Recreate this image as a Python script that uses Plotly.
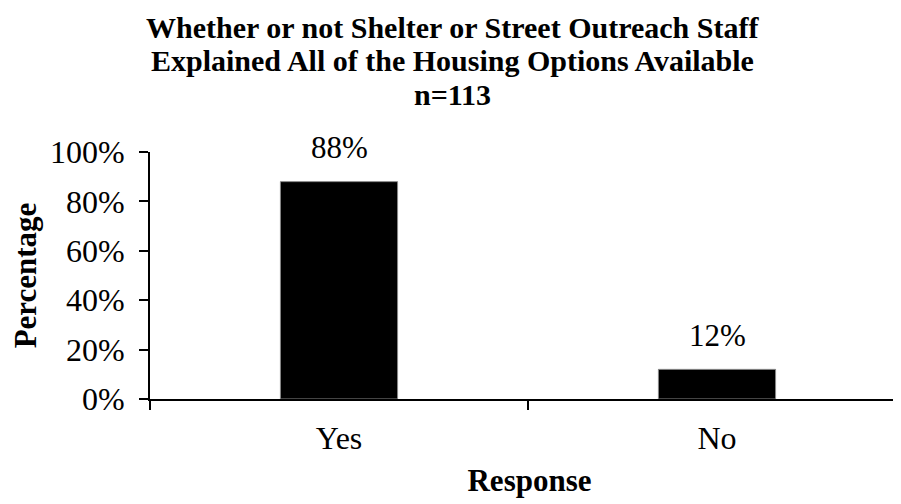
import plotly.graph_objects as go

categories = ["Yes", "No"]
values = [0.88, 0.12]
value_labels = ["88%", "12%"]
title_lines = [
    "Whether or not Shelter or Street Outreach Staff",
    "Explained All of the Housing Options Available",
    "n=113",
]
x_title = "Response"
y_title = "Percentage"
y_ticks = [0, 0.2, 0.4, 0.6, 0.8, 1.0]

FONT = "Liberation Serif, Times New Roman, serif"
OFF = 8  # page body margin
W, H = 901, 504
L, R, T, B = 150 - OFF, 0, 152 - OFF, 504 - (399 - OFF)
plot_h = H - T - B
plot_w = W - L - R
CAT_PX = 378.0

fig = go.Figure()
fig.add_trace(go.Bar(
    x=categories, y=values,
    marker=dict(color="black", line=dict(color="#888888", width=1)),
    width=0.31,
    hoverinfo="skip",
))

annotations = []
for c, v, t in zip(categories, values, value_labels):
    annotations.append(dict(x=c, y=v, xref="x", yref="y", text=t, showarrow=False,
                            yanchor="middle", yshift=34,
                            font=dict(family=FONT, size=31, color="black")))

title_centers_px = [27, 61, 95]
for line, ypx in zip(title_lines, title_centers_px):
    annotations.append(dict(x=(452 - OFF - L) / plot_w, y=(H - B - (ypx - OFF)) / plot_h,
                            xref="paper", yref="paper", text="<b>%s</b>" % line,
                            showarrow=False, xanchor="center", yanchor="middle",
                            font=dict(family=FONT, size=30, color="black")))

fig.update_layout(
    width=W, height=H,
    margin=dict(l=L, r=R, t=T, b=B, pad=0),
    paper_bgcolor="white", plot_bgcolor="white",
    showlegend=False,
    font=dict(family=FONT, color="black"),
    annotations=annotations,
    xaxis=dict(
        type="category",
        range=[-0.5, -0.5 + plot_w / CAT_PX],
        showline=True, linecolor="black", linewidth=2,
        ticks="outside", tickson="boundaries", ticklen=9, tickwidth=2, tickcolor="black",
        tickfont=dict(family=FONT, size=32, color="black"),
        ticklabelstandoff=10,
        showgrid=False, zeroline=False,
        title=dict(text="<b>%s</b>" % x_title, font=dict(family=FONT, size=31, color="black"), standoff=14),
    ),
    yaxis=dict(
        range=[0, 1],
        tickvals=y_ticks, tickformat=".0%",
        showline=True, linecolor="black", linewidth=2,
        ticks="outside", ticklen=9, tickwidth=2, tickcolor="black",
        tickfont=dict(family=FONT, size=32, color="black"),
        ticklabelstandoff=8,
        showgrid=False, zeroline=False,
        title=dict(text="<b>%s</b>" % y_title, font=dict(family=FONT, size=31, color="black"), standoff=12),
    ),
)

fig.write_html("out.html")
